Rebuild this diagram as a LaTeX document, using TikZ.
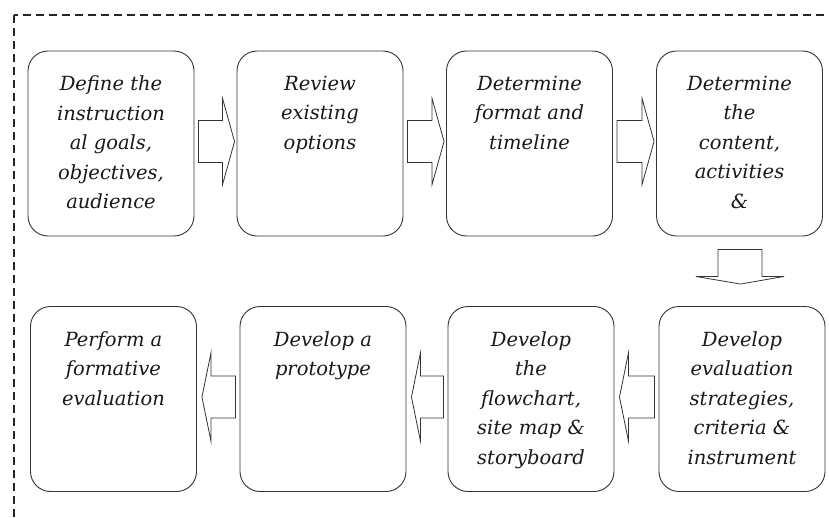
\documentclass[tikz,border=0pt]{standalone}
\usepackage{fontspec}
\setmainfont{DejaVu Serif}
\usetikzlibrary{calc}
\tikzset{
  stepbox/.style={draw=black!80, line width=0.9pt, rounded corners=20pt, fill=white,
    minimum width=166pt, minimum height=185pt, inner sep=0pt},
  steptext/.style={anchor=north, align=center, inner sep=0pt, text=black!90,
    font=\fontsize{19.5}{29.5}\selectfont\itshape},
  blockarrow/.style={draw=black!80, line width=0.8pt, fill=white, line join=miter},
  frame/.style={draw=black!85, line width=1.2pt, dash pattern=on 8pt off 5pt}
}
\begin{document}
\begin{tikzpicture}[x=1pt, y=-1pt]
\useasboundingbox (0,0) rectangle (829,517);
\clip (0,0) rectangle (829,517);
\draw[frame] (14,15) rectangle (900,600);

% row 1
\node[stepbox] (b1) at (111,143.5) {};
\node[stepbox] (b2) at (320,143.5) {};
\node[stepbox] (b3) at (529.5,143.5) {};
\node[stepbox] (b4) at (739.5,143.5) {};
% row 2
\node[stepbox] (b5) at (742,399) {};
\node[stepbox] (b6) at (531,399) {};
\node[stepbox] (b7) at (323,399) {};
\node[stepbox] (b8) at (113.5,399) {};

\node[steptext] (t1) at ($(b1.north)+(0,25)$) {Define the\\instruction\\al goals,\\objectives,\\audience};
\node[steptext] (t2) at ($(b2.north)+(0,25)$) {Review\\existing\\options};
\node[steptext] (t3) at ($(b3.north)+(0,25)$) {Determine\\format and\\timeline};
\node[steptext] (t4) at ($(b4.north)+(0,25)$) {Determine\\the\\content,\\activities\\\&};
\node[steptext] (t5) at ($(b5.north)+(0,25)$) {Develop\\evaluation\\strategies,\\criteria \&\\instrument};
\node[steptext] (t6) at ($(b6.north)+(0,25)$) {Develop\\the\\flowchart,\\site map \&\\storyboard};
\node[steptext] (t7) at ($(b7.north)+(0,25)$) {Develop a\\prototype};
\node[steptext] (t8) at ($(b8.north)+(0,25)$) {Perform a\\formative\\evaluation};

% right arrows
\foreach \a/\b in {b1/b2, b2/b3, b3/b4}{
  \draw[blockarrow] ($(\a.east)+(4,-2-21)$) -- ($(\b.west)+(-14,-2-21)$) -- ($(\b.west)+(-14,-2-43)$)
    -- ($(\b.west)+(-2,-2)$) -- ($(\b.west)+(-14,-2+43)$) -- ($(\b.west)+(-14,-2+21)$)
    -- ($(\a.east)+(4,-2+21)$) -- cycle;
}
% down arrow
\draw[blockarrow] ($(b4.south)+(-21.5,13)$) -- ($(b4.south)+(-21.5,40)$) -- ($(b4.south)+(-43.5,40)$)
  -- ($(b5.north)+(-1.5,-22)$) -- ($(b4.south)+(44.5,40)$) -- ($(b4.south)+(22.5,40)$)
  -- ($(b4.south)+(22.5,13)$) -- cycle;
% left arrows
\foreach \a/\b in {b5/b6, b6/b7, b7/b8}{
  \draw[blockarrow] ($(\a.west)+(-4,-2-21)$) -- ($(\b.east)+(14,-2-21)$) -- ($(\b.east)+(14,-2-44)$)
    -- ($(\b.east)+(5,-2)$) -- ($(\b.east)+(14,-2+44)$) -- ($(\b.east)+(14,-2+21)$)
    -- ($(\a.west)+(-4,-2+21)$) -- cycle;
}
\end{tikzpicture}
\end{document}
